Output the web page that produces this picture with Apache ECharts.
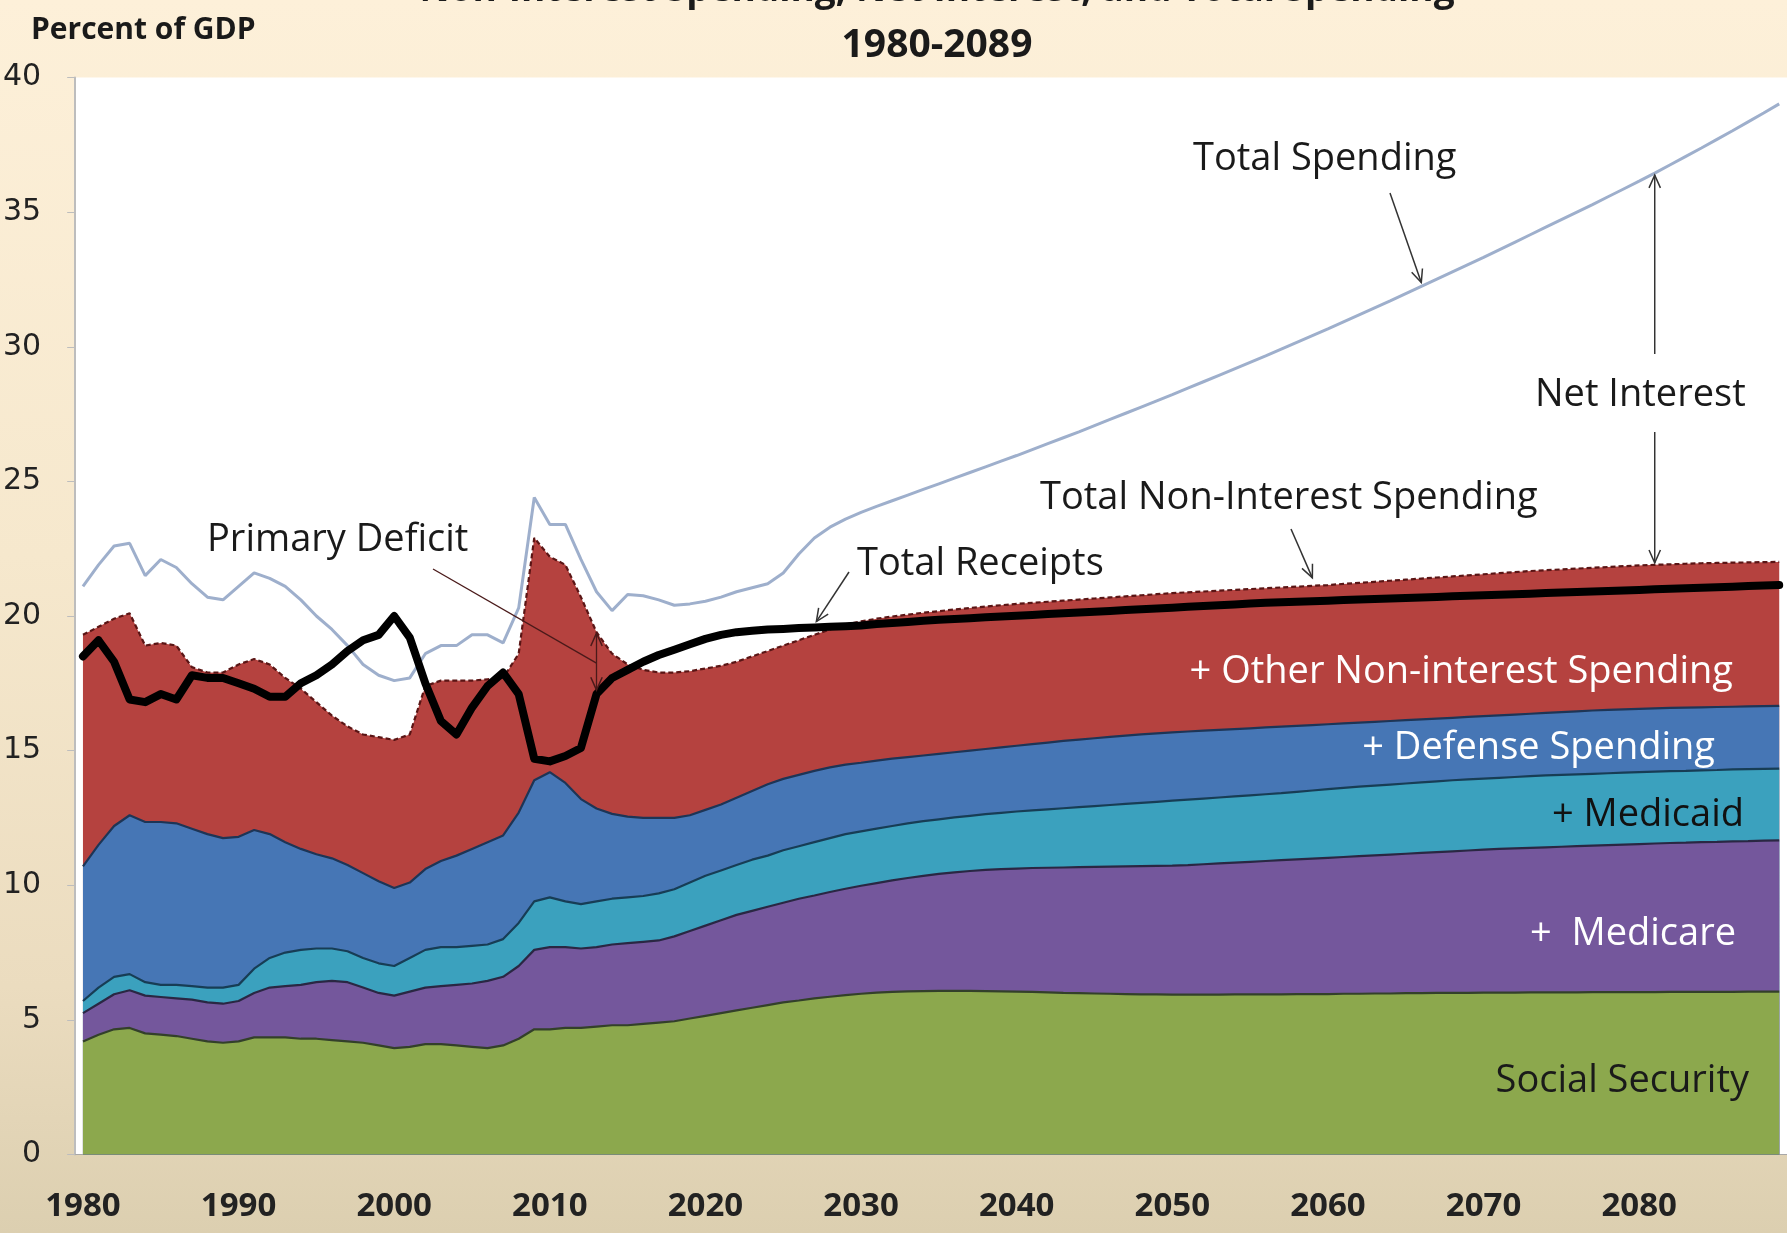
<!DOCTYPE html>
<html>
<head>
<meta charset="utf-8">
<script src="https://cdn.jsdelivr.net/npm/echarts@6/dist/echarts.min.js"></script>
<style>
  html, body { margin: 0; padding: 0; }
  body { width: 1787px; height: 1233px; overflow: hidden;
         background: linear-gradient(to bottom, #fdf0d9 0%, #f6e8cd 45%, #ebdcbf 80%, #dccfb0 100%); }
  #c { width: 1787px; height: 1233px; }
</style>
</head>
<body>
<div id="c"></div>
<script>
// ---------- DATA (percent of GDP) ----------
const years = [];
for (let y = 1980; y <= 2089; y++) years.push(String(y));

const yTicks = [0, 5, 10, 15, 20, 25, 30, 35, 40];

// Social Security
const socialSecurity = [
  4.2, 4.45, 4.65, 4.7, 4.5, 4.45, 4.4, 4.3, 4.2, 4.15,
  4.2, 4.35, 4.35, 4.35, 4.3, 4.3, 4.25, 4.2, 4.15, 4.05,
  3.95, 4.0, 4.1, 4.1, 4.05, 4.0, 3.95, 4.05, 4.3, 4.65,
  4.65, 4.7, 4.7, 4.75, 4.8, 4.8, 4.85, 4.9, 4.95, 5.05,
  5.15, 5.25, 5.35, 5.45, 5.55, 5.65, 5.72, 5.8, 5.86, 5.92,
  5.97, 6.01, 6.04, 6.06, 6.07, 6.08, 6.08, 6.08, 6.07, 6.06,
  6.05, 6.04, 6.02, 6.0, 5.99, 5.98, 5.97, 5.96, 5.95, 5.95,
  5.94, 5.94, 5.94, 5.94, 5.95, 5.95, 5.95, 5.95, 5.96, 5.96,
  5.96, 5.97, 5.97, 5.98, 5.98, 5.99, 5.99, 6.0, 6.0, 6.0,
  6.01, 6.01, 6.01, 6.02, 6.02, 6.02, 6.02, 6.03, 6.03, 6.03,
  6.03, 6.03, 6.04, 6.04, 6.04, 6.04, 6.04, 6.05, 6.05, 6.05
];
// Social Security + Medicare
const plusMedicare = [
  5.25, 5.6, 5.95, 6.1, 5.9, 5.85, 5.8, 5.75, 5.65, 5.6,
  5.7, 6.0, 6.2, 6.25, 6.3, 6.4, 6.45, 6.4, 6.2, 6.0,
  5.9, 6.05, 6.2, 6.25, 6.3, 6.35, 6.45, 6.6, 7.0, 7.6,
  7.7, 7.7, 7.65, 7.7, 7.8, 7.85, 7.9, 7.95, 8.1, 8.3,
  8.5, 8.7, 8.9, 9.05, 9.2, 9.35, 9.5, 9.62, 9.75, 9.87,
  9.98, 10.08, 10.18, 10.27, 10.35, 10.42, 10.48, 10.53, 10.57, 10.6,
  10.62, 10.64, 10.65, 10.66, 10.67, 10.68, 10.69, 10.7, 10.71, 10.72,
  10.73, 10.75, 10.78, 10.81, 10.84, 10.87, 10.9, 10.93, 10.96, 10.99,
  11.02, 11.05, 11.08, 11.11, 11.14, 11.17, 11.2, 11.23, 11.26, 11.29,
  11.32, 11.35, 11.37, 11.39, 11.41, 11.43, 11.45, 11.47, 11.49, 11.51,
  11.53, 11.55, 11.57, 11.58, 11.6, 11.61, 11.63, 11.64, 11.66, 11.67
];
// ... + Medicaid
const plusMedicaid = [
  5.7, 6.2, 6.6, 6.7, 6.4, 6.3, 6.3, 6.25, 6.2, 6.2,
  6.3, 6.9, 7.3, 7.5, 7.6, 7.65, 7.65, 7.55, 7.3, 7.1,
  7.0, 7.3, 7.6, 7.7, 7.7, 7.75, 7.8, 8.0, 8.6, 9.4,
  9.55, 9.4, 9.3, 9.4, 9.5, 9.55, 9.6, 9.7, 9.85, 10.1,
  10.35, 10.55, 10.75, 10.95, 11.1, 11.3, 11.45, 11.6, 11.75, 11.9,
  12.0, 12.1, 12.2, 12.3, 12.38, 12.45, 12.52, 12.58, 12.64, 12.69,
  12.74, 12.78, 12.82, 12.86, 12.9, 12.94, 12.98, 13.02, 13.06, 13.1,
  13.14, 13.18, 13.22, 13.26, 13.3, 13.34, 13.38, 13.42, 13.47, 13.52,
  13.57, 13.62, 13.66, 13.7, 13.74, 13.78, 13.82, 13.86, 13.9, 13.93,
  13.96, 13.99, 14.02, 14.05, 14.08, 14.1, 14.12, 14.14, 14.16, 14.18,
  14.2, 14.22, 14.24, 14.25, 14.27, 14.28, 14.3, 14.31, 14.32, 14.33
];
// ... + Defense Spending
const plusDefense = [
  10.7, 11.5, 12.2, 12.6, 12.35, 12.35, 12.3, 12.1, 11.9, 11.75,
  11.8, 12.05, 11.9, 11.6, 11.35, 11.15, 11.0, 10.75, 10.45, 10.15,
  9.9, 10.1, 10.6, 10.9, 11.1, 11.35, 11.6, 11.85, 12.7, 13.9,
  14.2, 13.8, 13.2, 12.85, 12.65, 12.55, 12.5, 12.5, 12.5, 12.6,
  12.8, 13.0, 13.25, 13.5, 13.75, 13.95, 14.1, 14.25, 14.38, 14.48,
  14.55, 14.63, 14.7, 14.76, 14.82, 14.88, 14.94, 15.0, 15.06, 15.12,
  15.18, 15.24, 15.3, 15.36, 15.41, 15.46, 15.51, 15.56, 15.6, 15.64,
  15.68, 15.71, 15.74, 15.77, 15.8, 15.83, 15.86, 15.89, 15.92, 15.95,
  15.98, 16.01, 16.04, 16.07, 16.1, 16.13, 16.16, 16.19, 16.22, 16.25,
  16.28, 16.31, 16.34, 16.37, 16.4, 16.43, 16.46, 16.49, 16.51, 16.53,
  16.55, 16.57, 16.59, 16.6, 16.61, 16.62, 16.63, 16.64, 16.65, 16.66
];
// Total Non-Interest Spending (... + Other Non-interest Spending)
const totalNonInterest = [
  19.3, 19.6, 19.9, 20.1, 18.9, 19.0, 18.9, 18.1, 17.9, 17.9,
  18.2, 18.4, 18.2, 17.7, 17.3, 16.8, 16.3, 15.9, 15.6, 15.5,
  15.4, 15.6, 17.4, 17.6, 17.6, 17.6, 17.65, 17.7, 18.6, 22.9,
  22.2, 21.9, 20.7, 19.4, 18.6, 18.2, 18.0, 17.9, 17.9, 17.95,
  18.05, 18.15, 18.3, 18.5, 18.7, 18.9, 19.1, 19.3, 19.5, 19.68,
  19.8, 19.9, 19.98, 20.05, 20.12, 20.18, 20.24, 20.3, 20.35, 20.4,
  20.45, 20.49, 20.53, 20.57, 20.61, 20.65, 20.69, 20.73, 20.77, 20.81,
  20.85, 20.88, 20.91, 20.94, 20.97, 21.0, 21.03, 21.06, 21.09, 21.12,
  21.15, 21.19, 21.23, 21.27, 21.31, 21.35, 21.39, 21.43, 21.47, 21.51,
  21.55, 21.59, 21.63, 21.67, 21.7, 21.73, 21.76, 21.79, 21.82, 21.85,
  21.88, 21.9, 21.92, 21.94, 21.96, 21.97, 21.98, 21.99, 22.0, 22.01
];
// Total Spending
const totalSpending = [
  21.1, 21.9, 22.6, 22.7, 21.5, 22.1, 21.8, 21.2, 20.7, 20.6,
  21.1, 21.6, 21.4, 21.1, 20.6, 20.0, 19.5, 18.9, 18.2, 17.8,
  17.6, 17.7, 18.6, 18.9, 18.9, 19.3, 19.3, 19.0, 20.3, 24.4,
  23.4, 23.4, 22.1, 20.9, 20.2, 20.8, 20.75, 20.6, 20.4, 20.45,
  20.55, 20.7, 20.9, 21.05, 21.2, 21.6, 22.3, 22.9, 23.3, 23.6,
  23.85, 24.07, 24.28, 24.49, 24.7, 24.91, 25.12, 25.33, 25.54, 25.75,
  25.96, 26.18, 26.4, 26.62, 26.84, 27.07, 27.3, 27.53, 27.76, 27.99,
  28.22, 28.46, 28.7, 28.94, 29.18, 29.42, 29.66, 29.91, 30.16, 30.41,
  30.66, 30.92, 31.18, 31.44, 31.7, 31.97, 32.24, 32.51, 32.78, 33.05,
  33.32, 33.6, 33.88, 34.16, 34.44, 34.72, 35.0, 35.28, 35.57, 35.86,
  36.15, 36.45, 36.76, 37.07, 37.38, 37.7, 38.02, 38.35, 38.68, 39.02
];
// Total Receipts
const totalReceipts = [
  18.5, 19.1, 18.3, 16.9, 16.8, 17.1, 16.9, 17.8, 17.7, 17.7,
  17.5, 17.3, 17.0, 17.0, 17.5, 17.8, 18.2, 18.7, 19.1, 19.3,
  20.0, 19.2, 17.5, 16.1, 15.6, 16.6, 17.4, 17.9, 17.1, 14.7,
  14.6, 14.8, 15.1, 17.1, 17.7, 18.0, 18.3, 18.55, 18.75, 18.95,
  19.15, 19.3, 19.4, 19.45, 19.5, 19.52, 19.55, 19.57, 19.6, 19.62,
  19.65, 19.7, 19.74, 19.78, 19.82, 19.86, 19.89, 19.92, 19.95, 19.98,
  20.01, 20.04, 20.07, 20.1, 20.13, 20.16, 20.19, 20.22, 20.25, 20.28,
  20.31, 20.34, 20.37, 20.4, 20.43, 20.46, 20.49, 20.51, 20.53, 20.55,
  20.57, 20.59, 20.61, 20.63, 20.65, 20.67, 20.69, 20.71, 20.73, 20.75,
  20.77, 20.79, 20.81, 20.83, 20.85, 20.87, 20.89, 20.91, 20.93, 20.95,
  20.97, 20.99, 21.01, 21.03, 21.05, 21.07, 21.09, 21.11, 21.13, 21.15
];

// ---------- CHART ----------
const FONT = '"Open Sans", "Noto Sans", sans-serif';
const chart = echarts.init(document.getElementById('c'), null, { renderer: 'canvas' });

function areaSeries(name, data, fill, line, lineType, z) {
  return {
    name, type: 'line', data, symbol: 'none', silent: true, z,
    lineStyle: { color: line, width: 2.2, type: lineType || 'solid' },
    areaStyle: { color: fill, opacity: 1 }
  };
}

chart.setOption({
  animation: false,
  backgroundColor: 'transparent',
  grid: { left: 74, top: 77.5, width: 1716, height: 1077, show: true,
          backgroundColor: '#ffffff', borderWidth: 0 },
  xAxis: {
    type: 'category', data: years, boundaryGap: true,
    axisLine: { show: true, lineStyle: { color: '#a8a8a8', width: 1 } },
    axisTick: { show: false },
    splitLine: { show: false },
    axisLabel: { interval: 9, fontFamily: FONT, fontWeight: 'bold', fontSize: 33,
                 color: '#222', margin: 36 }
  },
  yAxis: {
    type: 'value', min: yTicks[0], max: yTicks[yTicks.length - 1], interval: 5,
    axisLine: { show: true, lineStyle: { color: '#bdbdbd', width: 2 } },
    axisTick: { show: true, length: 8, lineStyle: { color: '#bdbdbd', width: 1 } },
    splitLine: { show: false },
    axisLabel: { fontFamily: '"DejaVu Sans", sans-serif', fontSize: 30, color: '#222', margin: 34 }
  },
  series: [
    areaSeries('Total Non-Interest Spending', totalNonInterest, '#b5423f', '#5a1515', [5, 3], 2),
    areaSeries('+ Defense Spending', plusDefense, '#4676b5', '#1d3556', null, 3),
    areaSeries('+ Medicaid', plusMedicaid, '#3ba1be', '#173d55', null, 4),
    areaSeries('+ Medicare', plusMedicare, '#74579c', '#2a2743', null, 5),
    areaSeries('Social Security', socialSecurity, '#8ca84d', '#33402a', null, 6),
    { name: 'Total Spending', type: 'line', data: totalSpending, symbol: 'none', silent: true, z: 10,
      lineStyle: { color: '#9eafcc', width: 3 } },
    { name: 'Total Receipts', type: 'line', data: totalReceipts, symbol: 'none', silent: true, z: 11,
      lineStyle: { color: '#000000', width: 8, join: 'round', cap: 'round' } }
  ]
});

// ---------- ANNOTATIONS ----------
function px(i, v) { return chart.convertToPixel({ xAxisIndex: 0, yAxisIndex: 0 }, [i, v]); }
const idx = y => y - 1980;

function txt(text, x, y, opts) {
  opts = opts || {};
  return { type: 'text', x, y, z: 100, silent: true,
    style: { text, fill: opts.color || '#1a1a1a', fontFamily: FONT,
             fontSize: opts.size || 38, fontWeight: opts.weight || 'normal',
             align: opts.align || 'left', verticalAlign: 'middle' } };
}
function seg(x1, y1, x2, y2, color, w) {
  return { type: 'line', z: 99, silent: true, shape: { x1, y1, x2, y2 },
           style: { stroke: color || '#333', lineWidth: w || 1.5 } };
}
function head(tx, ty, fx, fy, color, len) {
  const a = Math.atan2(ty - fy, tx - fx), L = len || 14, t = 0.42;
  return { type: 'polyline', z: 99, silent: true,
    shape: { points: [[tx - L * Math.cos(a - t), ty - L * Math.sin(a - t)], [tx, ty],
                      [tx - L * Math.cos(a + t), ty - L * Math.sin(a + t)]] },
    style: { stroke: color || '#333', lineWidth: 1.5, fill: null } };
}
function arrow(fx, fy, tx, ty, color) {
  return [seg(fx, fy, tx, ty, color), head(tx, ty, fx, fy, color)];
}

const g = [];
// title + unit
g.push(txt('Non-Interest Spending, Net Interest, and Total Spending', 937, -10, { weight: 'bold', size: 37, align: 'center' }));
g.push(txt('1980-2089', 937, 46, { weight: 'bold', size: 39, align: 'center' }));
g.push(txt('Percent of GDP', 31, 30, { weight: 'bold', size: 30 }));

// Total Spending
const tsTip = px(idx(2066), totalSpending[idx(2066)]);
g.push(txt('Total Spending', 1193, 159));
g.push(...arrow(1390, 193, tsTip[0], tsTip[1] - 4));

// Net Interest double arrow
const niTop = px(idx(2081), totalSpending[idx(2081)]);
const niBot = px(idx(2081), totalNonInterest[idx(2081)]);
g.push(seg(niTop[0], niTop[1] + 2, niTop[0], 354));
g.push(head(niTop[0], niTop[1] + 2, niTop[0], 354));
g.push(seg(niBot[0], 432, niBot[0], niBot[1] - 2));
g.push(head(niBot[0], niBot[1] - 2, niBot[0], 432));
g.push(txt('Net Interest', 1535, 395));

// Total Non-Interest Spending
const tnTip = px(idx(2059), totalNonInterest[idx(2059)]);
g.push(txt('Total Non-Interest Spending', 1040, 498));
g.push(...arrow(1291, 529, tnTip[0], tnTip[1] - 8));

// Total Receipts
const trTip = px(idx(2027), totalReceipts[idx(2027)]);
g.push(txt('Total Receipts', 857, 564));
g.push(...arrow(849, 572, trTip[0] + 2, trTip[1] - 6));

// Primary Deficit
const pdTop = px(idx(2013), totalNonInterest[idx(2013)]);
const pdBot = px(idx(2013), totalReceipts[idx(2013)]);
const pdMid = (pdTop[1] + pdBot[1]) / 2;
g.push(txt('Primary Deficit', 207, 540));
g.push(seg(433, 569, pdTop[0], pdMid, '#4a1a1a', 1.3));
g.push(seg(pdTop[0], pdTop[1] + 1, pdTop[0], pdBot[1] - 4, '#4a1a1a', 1.3));
g.push(head(pdTop[0], pdTop[1] + 1, pdTop[0], pdBot[1], '#4a1a1a'));
g.push(head(pdTop[0], pdBot[1] - 4, pdTop[0], pdTop[1], '#4a1a1a'));

// in-area labels
g.push(txt('+ Other Non-interest Spending', 1733, 672, { align: 'right', color: '#ffffff' }));
g.push(txt('+ Defense Spending', 1715, 748, { align: 'right', color: '#ffffff' }));
g.push(txt('+ Medicaid', 1744, 815, { align: 'right', color: '#111111' }));
g.push(txt('+  Medicare', 1736, 934, { align: 'right', color: '#ffffff' }));
g.push(txt('Social Security', 1749, 1081, { align: 'right', color: '#1a1a1a' }));

chart.setOption({ graphic: g });
</script>
</body>
</html>
